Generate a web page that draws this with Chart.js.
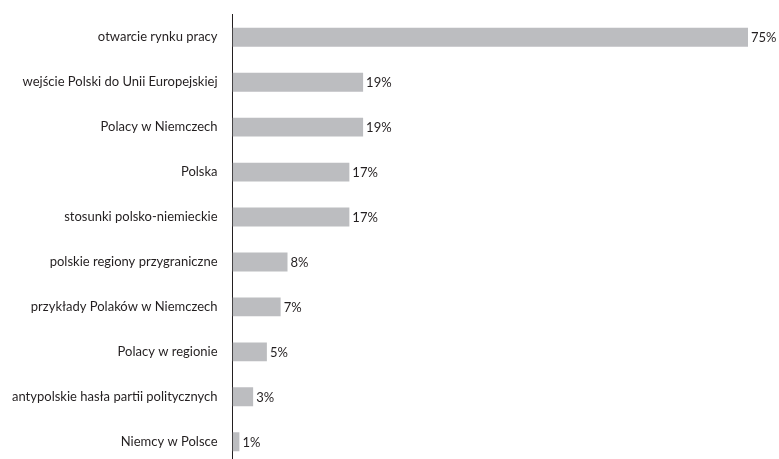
<!DOCTYPE html>
<html>
<head>
<meta charset="utf-8">
<script src="https://cdn.jsdelivr.net/npm/chart.js@4"></script>
<style>
  html, body { margin: 0; padding: 0; background: #fff; overflow: hidden; }
  #wrap { position: relative; width: 779px; height: 479px; }
</style>
</head>
<body>
<div id="wrap"><canvas id="tematyChart"></canvas></div>
<script>
const tematy = [
    'otwarcie rynku pracy',
    'wejście Polski do Unii Europejskiej',
    'Polacy w Niemczech',
    'Polska',
    'stosunki polsko-niemieckie',
    'polskie regiony przygraniczne',
    'przykłady Polaków w Niemczech',
    'Polacy w regionie',
    'antypolskie hasła partii politycznych',
    'Niemcy w Polsce'
];
const procenty = [75, 19, 19, 17, 17, 8, 7, 5, 3, 1];

const tekst = '#231f20';
const czcionka = { family: 'Lato, "Open Sans", sans-serif', size: 13 };

// podpisy z wartością na prawo od słupka
const podpisy = {
    id: 'podpisy',
    afterDatasetsDraw(chart) {
        const ctx = chart.ctx;
        const meta = chart.getDatasetMeta(0);
        ctx.save();
        ctx.fillStyle = tekst;
        ctx.font = czcionka.size + 'px ' + czcionka.family;
        ctx.textAlign = 'left';
        ctx.textBaseline = 'middle';
        meta.data.forEach((bar, i) => {
            ctx.fillText(procenty[i] + '%', bar.x + 3, bar.y + 1);
        });
        ctx.restore();
    }
};

const tematyCtx = document.getElementById('tematyChart');

new Chart(tematyCtx, {
    type: 'bar',
    data: {
        labels: tematy,
        datasets: [{
            data: procenty,
            backgroundColor: '#bcbdc0',
            borderWidth: 0,
            barPercentage: 0.84,
            categoryPercentage: 0.5,
        }]
    },
    plugins: [podpisy],
    options: {
        indexAxis: 'y',
        responsive: true,
        maintainAspectRatio: false,
        animation: false,
        layout: {
            padding: { top: 12, right: 31, bottom: 0, left: 5 }
        },
        plugins: {
            legend: { display: false },
            tooltip: { enabled: false },
        },
        scales: {
            x: {
                min: 0,
                max: 75,
                display: false,
            },
            y: {
                grid: { display: false },
                border: { display: true, color: tekst, width: 1 },
                ticks: {
                    color: tekst,
                    font: czcionka,
                    padding: 7,
                },
            }
        }
    }
});
</script>
</body>
</html>
